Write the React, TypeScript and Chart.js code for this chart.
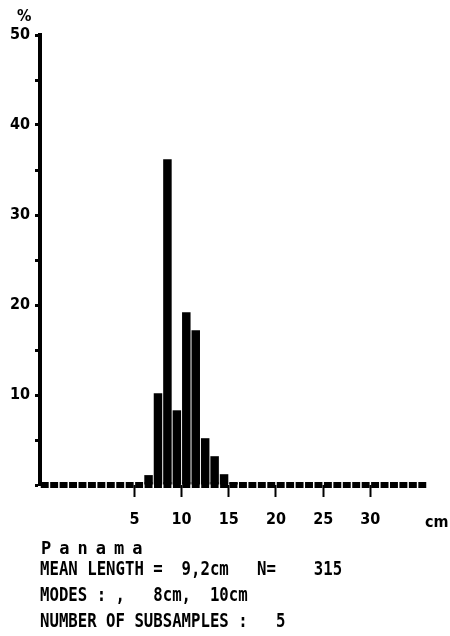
import React, { useEffect, useRef } from "react";
import { Chart, registerables } from "chart.js";

Chart.register(...registerables);

// Length bins (cm, lower edge of 1 cm class) and percentage frequencies
const lengthBins = [6, 7, 8, 9, 10, 11, 12, 13, 14, 15];
const percentValues = [1.1, 10.2, 36.2, 8.3, 19.2, 17.2, 5.2, 3.2, 1.2, 0.3];

const xTickValues = [5, 10, 15, 20, 25, 30];
const yLabelValues = [10, 20, 30, 40, 50];
const xMin = -5;
const xMax = 36;
const yMin = 0;
const yMax = 50;
const yStep = 5;

const yUnit = "%";
const xUnit = "cm";
const locationName = "Panama";
const infoLines = [
  "MEAN LENGTH =  9,2cm   N=    315",
  "MODES : ,   8cm,  10cm",
  "NUMBER OF SUBSAMPLES :   5",
];

// Blocky baseline: one small block per 1 cm class along the x axis
const baselinePlugin = {
  id: "blockBaseline",
  beforeDatasetsDraw(chart: any) {
    const ctx = chart.ctx as CanvasRenderingContext2D;
    const xs = chart.scales.x;
    const ys = chart.scales.y;
    const y0 = ys.getPixelForValue(0);
    ctx.save();
    ctx.fillStyle = "#000";
    for (let k = xMin; k < xMax; k++) {
      const a = xs.getPixelForValue(k);
      const b = xs.getPixelForValue(k + 1);
      const w = b - a;
      ctx.fillRect(a + w * 0.08, y0 - 3, w * 0.84, 6);
    }
    ctx.restore();
  },
};

const textPlugin = {
  id: "extraText",
  afterDraw(chart: any) {
    const ctx = chart.ctx as CanvasRenderingContext2D;
    ctx.save();
    ctx.fillStyle = "#000";
    ctx.textBaseline = "alphabetic";
    ctx.textAlign = "left";
    ctx.font = "bold 16px 'DejaVu Sans Condensed', 'DejaVu Sans'";
    ctx.fillText(yUnit, 17, 21);
    ctx.fillText(xUnit, 425, 527);
    ctx.font = "bold 17px 'DejaVu Sans Mono'";
    (ctx as any).letterSpacing = "8px";
    ctx.fillText(locationName, 41, 554);
    (ctx as any).letterSpacing = "0px";
    ctx.font = "bold 16px 'DejaVu Sans Mono'";
    const baselines = [575, 601, 627];
    infoLines.forEach((line, i) => {
      ctx.save();
      ctx.translate(40, baselines[i]);
      ctx.scale(0.98, 1.2);
      ctx.fillText(line, 0, 0);
      ctx.restore();
    });
    ctx.restore();
  },
};

export default function App() {
  const canvasRef = useRef<HTMLCanvasElement | null>(null);

  useEffect(() => {
    if (!canvasRef.current) return;
    const chart = new Chart(canvasRef.current, {
      type: "bar",
      data: {
        datasets: [
          {
            data: lengthBins.map((l, i) => ({ x: l + 0.5, y: percentValues[i] })),
            backgroundColor: "#000",
            borderWidth: 0,
            categoryPercentage: 1,
            barPercentage: 0.9,
          } as any,
        ],
      },
      options: {
        responsive: false,
        maintainAspectRatio: false,
        animation: false,
        layout: { padding: { top: 35, right: 23, bottom: 101, left: 0 } },
        plugins: { legend: { display: false }, tooltip: { enabled: false } },
        scales: {
          x: {
            type: "linear",
            min: xMin,
            max: xMax,
            offset: false,
            afterBuildTicks: (scale: any) => {
              scale.ticks = xTickValues.map((v) => ({ value: v }));
            },
            afterFit: (scale: any) => {
              scale.height = 50;
            },
            grid: {
              drawOnChartArea: false,
              drawTicks: true,
              tickLength: 12,
              tickWidth: 2,
              color: "#000",
              offset: false,
            },
            border: { display: false },
            ticks: {
              color: "#000",
              padding: 13,
              maxRotation: 0,
              autoSkip: false,
              font: { family: "'DejaVu Sans Condensed', 'DejaVu Sans'", size: 16, weight: "bold" },
              callback: (v: any) => String(v),
            },
          },
          y: {
            min: yMin,
            max: yMax,
            afterFit: (scale: any) => {
              scale.width = 40;
            },
            grid: {
              drawOnChartArea: false,
              drawTicks: true,
              tickLength: 5,
              tickWidth: 3,
              color: "#000",
            },
            border: { display: true, color: "#000", width: 4 },
            ticks: {
              stepSize: yStep,
              color: "#000",
              padding: 5,
              autoSkip: false,
              font: { family: "'DejaVu Sans Condensed', 'DejaVu Sans'", size: 16, weight: "bold" },
              callback: (v: any) => (yLabelValues.includes(Number(v)) ? String(v) : ""),
            },
          },
        },
      } as any,
      plugins: [baselinePlugin, textPlugin],
    });
    return () => chart.destroy();
  }, []);

  return (
    <div style={{ position: "fixed", left: 0, top: 0, width: 450, height: 636, background: "#fff" }}>
      <canvas ref={canvasRef} width={450} height={636} />
    </div>
  );
}
